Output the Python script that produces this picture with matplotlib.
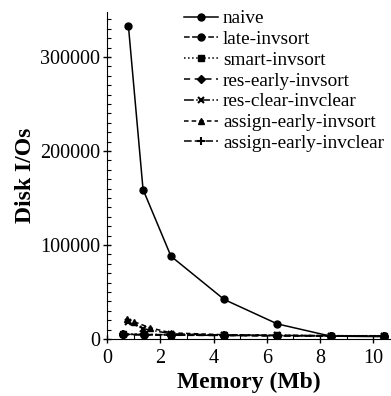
import matplotlib
matplotlib.use("Agg")
import matplotlib.pyplot as plt
from matplotlib.ticker import MultipleLocator

plt.rcParams['font.family'] = ['Liberation Serif', 'DejaVu Serif']

# Memory (Mb) / disk I/Os
mem = [0.6, 1.4, 2.4, 4.4, 6.4, 8.4, 10.4]
mem_naive = [0.8, 1.35, 2.4, 4.4, 6.4, 8.4, 10.4]
mem_assign = [0.75, 1.0, 1.6, 2.4, 4.4, 6.4, 8.4, 10.4]

naive = [333000, 159000, 88000, 42000, 16000, 3000, 2500]
late_invsort = [5000, 4500, 4200, 3800, 3500, 3200, 3000]
smart_invsort = [5500, 5000, 4500, 4000, 3800, 3500, 3500]
res_early_invsort = [4500, 4200, 4000, 3600, 3300, 3000, 3000]
res_clear_invclear = [18000, 11000, 5500, 4200, 3800, 3500, 3200]
assign_early_invsort = [21000, 18500, 12000, 6500, 4500, 4000, 3500, 3200]
assign_early_invclear = [5000, 4800, 4500, 4000, 3600, 3300, 3000]

fig = plt.figure(figsize=(3.91, 3.96), dpi=100)
ax = fig.add_axes([0.274, 0.144, 0.724, 0.826])

ax.plot(mem_naive, naive, '-', color='black', marker='o', ms=5, lw=1.1, label='naive')
ax.plot(mem, late_invsort, '--', color='black', marker='o', ms=5, lw=1.1, label='late-invsort')
ax.plot(mem, smart_invsort, ':', color='black', marker='s', ms=5, lw=1.1, label='smart-invsort')
ax.plot(mem, res_early_invsort, '--', color='black', marker='D', ms=4, lw=1.1,
        dashes=(4, 3), label='res-early-invsort')
ax.plot(mem_naive, res_clear_invclear, '-.', color='black', marker='x', ms=5, mew=1.5, lw=1.1,
        label='res-clear-invclear')
ax.plot(mem_assign, assign_early_invsort, '--', color='black', marker='^', ms=5, lw=1.1,
        dashes=(3, 2), label='assign-early-invsort')
ax.plot(mem, assign_early_invclear, '--', color='black', marker='+', ms=6, mew=1.5, lw=1.1,
        dashes=(5, 2), label='assign-early-invclear')

ax.set_xlim(0, 10.64)
ax.set_ylim(0, 348000)
ax.xaxis.set_major_locator(MultipleLocator(2))
ax.xaxis.set_minor_locator(MultipleLocator(1))
ax.yaxis.set_major_locator(MultipleLocator(100000))
ax.yaxis.set_minor_locator(MultipleLocator(10000))
ax.tick_params(which='major', direction='inout', length=6, labelsize=14.5, width=1, pad=2)
ax.tick_params(axis='x', which='major', pad=4)
ax.tick_params(which='minor', direction='in', length=3, width=0.8)

ax.spines['top'].set_visible(False)
ax.spines['right'].set_visible(False)

ax.set_xlabel('Memory (Mb)', fontsize=17, fontweight='bold', labelpad=3)
ax.set_ylabel('Disk I/Os', fontsize=17, fontweight='bold', labelpad=3)

ax.legend(loc='upper right', frameon=False, fontsize=13.9, handlelength=1.75,
          handletextpad=0.25, labelspacing=0.17, borderaxespad=0.0,
          bbox_to_anchor=(1.005, 1.03))

plt.savefig('out.png', dpi=100)
